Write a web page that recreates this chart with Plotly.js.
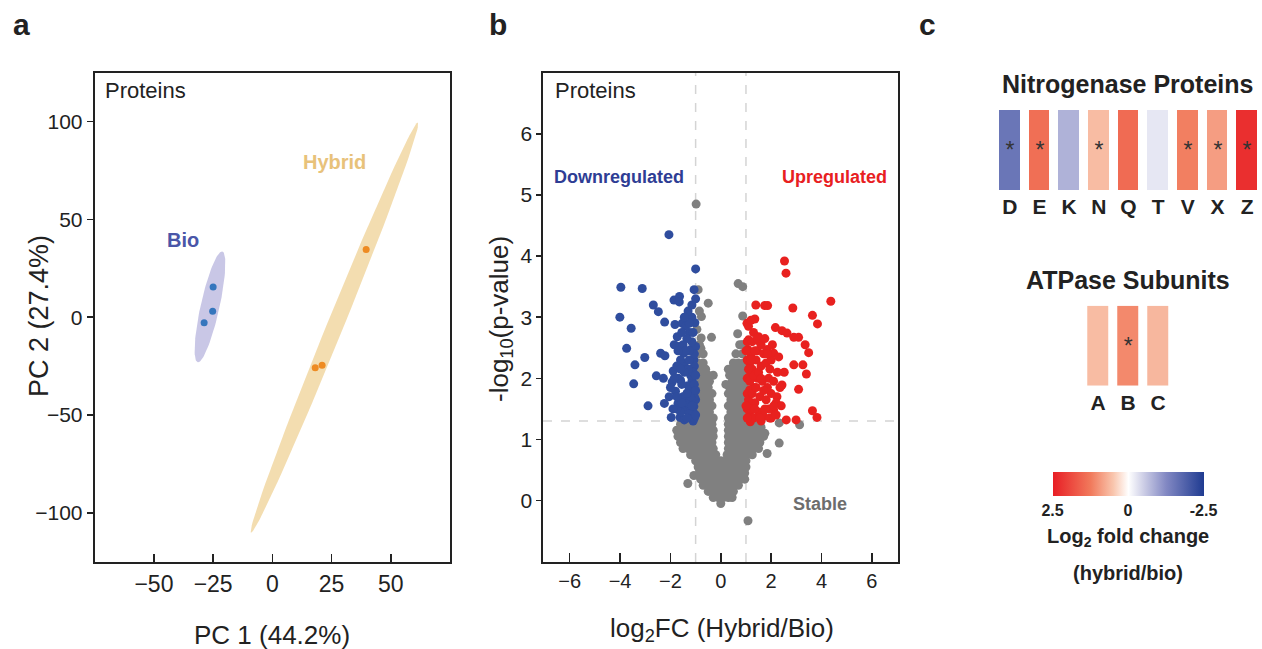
<!DOCTYPE html>
<html>
<head>
<meta charset="utf-8">
<script src="https://cdn.plot.ly/plotly-3.0.1.min.js"></script>
<style>html,body{margin:0;padding:0;background:#fff}#chart{width:1262px;height:649px}</style>
</head>
<body>
<div id="chart"></div>
<script>
// ---------- Panel a: PCA ----------
const bioPC1 = [-25.0, -25.2, -28.8];
const bioPC2 = [15.5, 3.1, -2.8];
const hybPC1 = [39.6, 18.1, 21.0];
const hybPC2 = [34.6, -25.9, -24.6];
const pcaXTicks = [-50, -25, 0, 25, 50];
const pcaYTicks = [-100, -50, 0, 50, 100];

// ---------- Panel b: volcano ----------
const downX = [-2.06,-3.97,-3.12,-4.01,-3.56,-3.74,-3.41,-3.46,-3.02,-2.89,-2.68,-2.48,-2.23,-2.39,-2.22,-2.56,-2.28,-2.24,-1.86,-1.64,-1.65,-1.82,-1.53,-1.0,-1.06,-1.03,-1.24,-1.73,-1.66,-1.89,-1.93,-1.8,-1.7,-1.97,-1.62,-1.2,-1.07,-1.33,-1.14,-1.4,-1.07,-1.2,-1.47,-1.0,-1.6,-1.0,-1.33,-1.07,-1.53,
  -1.1,-1.25,-1.45,-1.6,-1.75,-1.15,-1.3,-1.5,-1.7,-1.2,-1.45,-1.6,-1.15,-1.35,-1.5,-1.05,-1.25,-1.05,-1.3,-1.55,-1.75,-1.85,-1.4,-1.15,-1.65,-1.9,-2.05,-2.0,
  -1.05,-1.15,-1.05,-1.2,-1.35,-1.1,-1.3,-1.45,-1.05,-1.25,-1.4,-1.1,-1.55,-1.25,-1.7,-1.35,-1.55,-1.75,-1.85,-1.6,-1.15,-1.3,-1.0,-1.0,-1.0,-1.0,-1.45];
const downY = [4.35,3.49,3.47,3.0,2.82,2.49,2.22,1.91,2.34,1.55,3.2,3.09,2.92,2.41,2.37,2.04,2.0,1.59,3.28,3.34,3.25,2.88,2.9,3.79,3.45,2.91,2.75,2.68,2.52,2.12,1.94,1.79,1.59,1.36,1.36,1.35,1.43,1.76,1.97,2.14,2.3,2.47,2.41,2.52,1.97,1.65,1.51,1.54,1.48,
  1.3,1.42,1.32,1.45,1.5,1.8,1.88,1.7,2.0,2.05,2.25,2.3,2.6,2.65,2.55,2.2,2.3,1.9,1.6,1.9,2.2,2.55,2.85,3.0,1.6,1.5,1.7,1.85,
  1.35,1.55,1.7,1.7,1.75,2.1,2.15,2.1,2.4,2.45,2.45,2.75,2.75,2.9,2.45,1.35,1.6,1.7,2.0,2.15,3.2,3.1,3.3,2.05,1.8,1.4,3.0];
const upX = [2.53,2.59,4.37,1.39,1.74,1.86,2.86,3.64,3.84,1.35,1.04,2.17,2.43,2.63,2.9,3.09,3.35,3.49,2.9,3.26,3.4,3.09,2.52,3.64,3.82,2.6,2.99,2.1,2.23,2.43,2.1,1.84,1.57,1.5,1.1,1.08,1.15,1.15,1.15,1.15,1.15,1.17,
  1.3,1.5,1.7,1.9,2.0,1.35,1.55,1.8,2.0,1.3,1.45,1.65,1.9,2.1,1.25,1.4,1.6,1.8,2.0,2.25,1.2,1.45,1.7,1.95,2.3,1.6,1.3,2.2,2.4,2.35,1.05,1.05,1.05,1.05,1.1,1.6,1.85,2.1,
  1.05,1.2,1.35,1.1,1.25,1.4,1.15,1.3,1.5,1.1,1.2,1.35,1.05,1.25,1.45,1.2,1.6,1.75,1.7,1.55,1.85,2.05,1.75,1.95,2.2,1.0,1.0];
const upY = [3.92,3.72,3.26,3.2,3.19,3.19,3.15,3.03,2.89,2.97,2.9,2.83,2.78,2.74,2.67,2.67,2.55,2.42,2.22,2.22,2.07,1.82,2.1,1.47,1.36,1.32,1.32,1.48,1.70,1.89,2.41,2.47,2.58,2.68,2.63,2.47,2.25,2.03,1.81,1.59,1.4,1.29,
  1.35,1.45,1.38,1.5,1.35,1.6,1.7,1.65,1.75,1.85,2.0,1.95,2.0,1.95,2.15,2.3,2.2,2.25,2.3,2.1,2.4,2.45,2.4,2.15,2.35,2.55,2.75,1.6,1.55,1.85,2.0,1.5,1.75,2.3,2.85,1.3,1.85,1.55,
  1.35,1.5,1.5,1.65,1.75,1.85,1.95,2.05,2.1,2.15,2.3,2.45,2.6,2.6,2.65,2.95,2.0,1.5,1.8,1.35,2.4,2.55,2.65,1.35,1.4,1.55,2.45];
// stable proteins, read row by row (y level, x positions)
const stableRowY = [-0.05,0.05,0.15,0.25,0.35,0.45,0.55,0.65,0.75,0.85,0.95,1.05,1.15,1.25,1.35,1.45,1.55,1.65,1.75,1.85,1.95,2.05,2.15,2.25,2.4,2.55];
const stableRowX = [
  [0],
  [-0.3,-0.1,0.1,0.3,0.45],
  [-0.5,-0.3,-0.1,0.1,0.3,0.5],
  [-0.7,-0.5,-0.3,-0.1,0.1,0.3,0.5,0.7],
  [-0.8,-0.6,-0.4,-0.2,0,0.2,0.4,0.6,0.8],
  [-0.85,-0.65,-0.45,-0.25,-0.05,0.15,0.35,0.55,0.75,0.95],
  [-0.9,-0.7,-0.5,-0.3,-0.1,0.1,0.3,0.5,0.7,0.9,1.0],
  [-1.0,-0.8,-0.6,-0.4,-0.2,0.0,0.2,0.4,0.6,0.8,1.0],
  [-1.2,-1.0,-0.8,-0.6,-0.4,-0.2,0.25,0.45,0.65,0.85,1.05,1.25],
  [-1.5,-1.3,-1.1,-0.9,-0.7,-0.5,-0.3,0.3,0.5,0.7,0.9,1.1,1.3,1.5],
  [-1.6,-1.4,-1.2,-1.0,-0.8,-0.6,-0.35,0.3,0.5,0.7,0.9,1.1,1.3,1.55],
  [-1.7,-1.5,-1.3,-1.1,-0.9,-0.7,-0.5,-0.3,0.3,0.5,0.7,0.9,1.1,1.3,1.5,1.7],
  [-1.75,-1.55,-1.35,-1.15,-0.95,-0.75,-0.55,-0.3,0.3,0.5,0.7,0.9,1.1,1.3,1.5],
  [-1.6,-1.4,-1.2,-1.0,-0.8,-0.6,-0.35,0.3,0.5,0.7,0.9,1.1,1.3],
  [-0.95,-0.75,-0.55,-0.3,0.3,0.5,0.7,0.9],
  [-0.85,-0.65,-0.45,0.4,0.6,0.8,0.95],
  [-0.95,-0.75,-0.55,-0.35,0.3,0.5,0.7,0.9],
  [-0.85,-0.65,-0.45,0.4,0.6,0.8,0.95],
  [-0.95,-0.75,-0.55,-0.35,0.3,0.5,0.7,0.9],
  [-0.9,-0.7,-0.5,0.35,0.55,0.75,0.95],
  [-0.8,-0.6,-0.45,0.45,0.65,0.85],
  [-0.9,-0.7,-0.5,0.35,0.55,0.75,0.95],
  [-0.8,-0.6,0.45,0.65,0.85],
  [-0.9,-0.7,0.5,0.7,0.9],
  [-0.9,-0.7,0.6,0.85],
  [-0.85,0.75,0.9]
];
const stableOutX = [-0.98,-0.9,-0.5,-0.77,-0.78,-0.37,-0.79,0.69,0.87,0.87,0.67,0.84,0.3,2.32,1.84,3.13,2.32,-1.31,-1.07,1.08,0.95,-0.3,-0.95,-0.85,0.2,1.2,1.6,1.75];
const stableOutY = [4.85,3.45,3.23,3.01,2.66,2.67,2.49,3.55,3.5,3.02,2.73,2.55,2.15,0.94,0.77,1.24,1.27,0.28,0.41,-0.33,0.35,2.05,2.8,3.1,1.9,1.15,1.2,1.1];
const fcCut = 1;
const pCut = 0.05;
const volXTicks = [-6,-4,-2,0,2,4,6];
const volYTicks = [0,1,2,3,4,5,6];

// ---------- Panel c: heatmaps ----------
const nitroGenes = ['D','E','K','N','Q','T','V','X','Z'];
const nitroFC = [-1.55, 1.4, -0.8, 0.6, 1.45, -0.25, 1.2, 0.9, 2.27];
const nitroSig = ['*','*','','*','','','*','*','*'];
const atpGenes = ['A','B','C'];
const atpFC = [0.6, 1.1, 0.65];
const atpSig = ['','*',''];
const fcTickVals = [2.5, 0, -2.5];

// ---------- helpers ----------
const W = 1262, H = 649;
const px = x => x / W;
const py = y => 1 - y / H;
const FONT = 'Arial, "Liberation Sans", Helvetica, sans-serif';

function ellipse(xs, ys, r) {
  const n = xs.length;
  const mx = xs.reduce((a,b)=>a+b,0)/n, my = ys.reduce((a,b)=>a+b,0)/n;
  let sxx=0, syy=0, sxy=0;
  for (let i=0;i<n;i++){ const dx=xs[i]-mx, dy=ys[i]-my; sxx+=dx*dx; syy+=dy*dy; sxy+=dx*dy; }
  sxx/=(n-1); syy/=(n-1); sxy/=(n-1);
  const tr = sxx+syy, det = sxx*syy - sxy*sxy;
  const disc = Math.sqrt(Math.max(tr*tr/4 - det, 0));
  const l1 = tr/2 + disc, l2 = Math.max(tr/2 - disc, 0);
  let vx = sxy, vy = l1 - sxx;
  const nv = Math.hypot(vx, vy) || 1; vx/=nv; vy/=nv;
  const a = Math.sqrt(l1)*r, b = Math.sqrt(l2)*r;
  const ex=[], ey=[];
  for (let k=0;k<=120;k++){
    const t = 2*Math.PI*k/120;
    const u = a*Math.cos(t), v = b*Math.sin(t);
    ex.push(mx + u*vx - v*vy);
    ey.push(my + u*vy + v*vx);
  }
  return {x:ex, y:ey};
}
const R99 = Math.sqrt(-2*Math.log(0.01));
const bioEll = ellipse(bioPC1, bioPC2, R99);
const hybEll = ellipse(hybPC1, hybPC2, R99);

const stableX = [], stableY = [];
stableRowY.forEach((y,i)=>stableRowX[i].forEach(x=>{stableX.push(x); stableY.push(y);}));
stableOutX.forEach((x,i)=>{stableX.push(x); stableY.push(stableOutY[i]);});

// z is plotted as -log2FC so that +2.5 sits on the left of the colour bar
const colorscale = [
  [0,'#e81e25'],[0.25,'#f17a5c'],[0.4,'#f9c6ae'],[0.5,'#ffffff'],
  [0.6,'#cdcee6'],[0.75,'#8288c3'],[1,'#1f3b91']
];

const traces = [
  {type:'scatter', mode:'lines', x:bioEll.x, y:bioEll.y, fill:'toself', fillcolor:'#c9c7e6', line:{width:0}, xaxis:'x', yaxis:'y', hoverinfo:'skip'},
  {type:'scatter', mode:'lines', x:hybEll.x, y:hybEll.y, fill:'toself', fillcolor:'#f3ddb0', line:{width:0}, xaxis:'x', yaxis:'y', hoverinfo:'skip'},
  {type:'scatter', mode:'markers', x:bioPC1, y:bioPC2, marker:{size:7, color:'#3576bd'}, xaxis:'x', yaxis:'y'},
  {type:'scatter', mode:'markers', x:hybPC1, y:hybPC2, marker:{size:7, color:'#ee8b22'}, xaxis:'x', yaxis:'y'},

  {type:'scatter', mode:'markers', x:stableX, y:stableY, marker:{size:9, color:'#808080'}, xaxis:'x2', yaxis:'y2'},
  {type:'scatter', mode:'markers', x:downX, y:downY, marker:{size:9, color:'#2f4d9e'}, xaxis:'x2', yaxis:'y2'},
  {type:'scatter', mode:'markers', x:upX, y:upY, marker:{size:9, color:'#e8211f'}, xaxis:'x2', yaxis:'y2'},

  {type:'heatmap', x:nitroGenes, y:['n'], z:[nitroFC.map(v=>-v)], text:[nitroSig], texttemplate:'%{text}',
   textfont:{size:23, color:'#333', family:FONT}, colorscale:colorscale, zmin:-2.5, zmax:2.5, xgap:9,
   xaxis:'x3', yaxis:'y3', showscale:true,
   colorbar:{orientation:'h', x:px(1128), xanchor:'center', y:py(472), yanchor:'top', len:151, lenmode:'pixels',
     thickness:24, thicknessmode:'pixels', outlinewidth:0, ticks:'', xpad:0, ypad:0,
     tickvals:fcTickVals.map(v=>-v), ticktext:fcTickVals.map(v=>'<b>'+String(v)+'</b>'),
     tickfont:{size:16, color:'#222', family:FONT}}},
  {type:'heatmap', x:atpGenes, y:['a'], z:[atpFC.map(v=>-v)], text:[atpSig], texttemplate:'%{text}',
   textfont:{size:23, color:'#333', family:FONT}, colorscale:colorscale, zmin:-2.5, zmax:2.5, xgap:9,
   xaxis:'x4', yaxis:'y4', showscale:false}
];

const frame = {showline:true, mirror:true, linewidth:2, linecolor:'#222', showgrid:false, zeroline:false, tickcolor:'#222', tickwidth:1.5};

const shapes = [
  {type:'line', xref:'x2', yref:'paper', x0:-fcCut, x1:-fcCut, y0:py(562), y1:py(72.7), line:{color:'#d4d4d4', width:1.5, dash:'dash'}, layer:'below'},
  {type:'line', xref:'x2', yref:'paper', x0:fcCut, x1:fcCut, y0:py(562), y1:py(72.7), line:{color:'#d4d4d4', width:1.5, dash:'dash'}, layer:'below'},
  {type:'line', xref:'paper', yref:'y2', x0:px(543), x1:px(898), y0:-Math.log10(pCut), y1:-Math.log10(pCut), line:{color:'#d4d4d4', width:1.5, dash:'dash'}, layer:'below'}
];

function ann(text, x, y, size, opts) {
  return Object.assign({text:text, xref:'paper', yref:'paper', x:px(x), y:py(y), xanchor:'center', yanchor:'middle',
    showarrow:false, font:{size:size, color:'#222', family:FONT}}, opts||{});
}

const annotations = [
  ann('<b>a</b>', 21, 24.5, 30),
  ann('<b>b</b>', 498, 24.5, 30),
  ann('<b>c</b>', 927, 24.5, 30),
  ann('Proteins', 102.7, 91, 22, {xanchor:'left'}),
  ann('Proteins', 552.7, 91, 22, {xanchor:'left'}),
  ann('<b>Bio</b>', 183, 240, 20, {font:{size:20, color:'#4a56a8', family:FONT}}),
  ann('<b>Hybrid</b>', 334.5, 162, 20, {font:{size:20, color:'#e8c27a', family:FONT}}),
  ann('<b>Downregulated</b>', 618.7, 177, 18, {font:{size:18, color:'#2e3d94', family:FONT}}),
  ann('<b>Upregulated</b>', 834.3, 177, 18, {font:{size:18, color:'#e8201f', family:FONT}}),
  ann('<b>Stable</b>', 820, 504, 18, {font:{size:18, color:'#6d6d6d', family:FONT}}),
  ann('PC 1 (44.2%)', 272, 635, 26),
  ann('PC 2 (27.4%)', 39, 316, 27, {textangle:-90}),
  ann('-log<sub>10</sub>(p-value)', 500, 319, 26, {textangle:-90}),
  ann('log<sub>2</sub>FC (Hybrid/Bio)', 722, 629, 26),
  ann('<b>Nitrogenase Proteins</b>', 1127.5, 84, 25),
  ann('<b>ATPase Subunits</b>', 1127.7, 280, 25),
  ann('<b>Log<sub>2</sub> fold change</b>', 1128, 537, 20),
  ann('<b>(hybrid/bio)</b>', 1128, 573, 20)
];

const layout = {
  width:W, height:H, margin:{l:0,r:0,t:0,b:0}, paper_bgcolor:'#fff', plot_bgcolor:'#fff',
  showlegend:false, font:{family:FONT, color:'#222'},
  xaxis: Object.assign({}, frame, {domain:[px(94.7), px(450)], range:[-75,75], tickvals:pcaXTicks, ticks:'inside', ticklen:8,
    tickfont:{size:23, color:'#222'}, ticklabelstandoff:1, anchor:'y'}),
  yaxis: Object.assign({}, frame, {domain:[py(561.7), py(72.7)], range:[-125,125], tickvals:pcaYTicks, ticks:'outside', ticklen:6,
    tickfont:{size:21, color:'#222'}, anchor:'x'}),
  xaxis2: Object.assign({}, frame, {domain:[px(543.3), px(898.3)], range:[-7.05,7.05], tickvals:volXTicks, ticks:'inside', ticklen:9,
    tickfont:{size:20, color:'#222'}, ticklabelstandoff:0, anchor:'y2'}),
  yaxis2: Object.assign({}, frame, {domain:[py(562.3), py(72.7)], range:[-1.01,7.0], tickvals:volYTicks, ticks:'outside', ticklen:5,
    tickfont:{size:21, color:'#222'}, anchor:'x2'}),
  xaxis3: {domain:[px(995), px(1262)], type:'category', showgrid:false, zeroline:false, showline:false, ticks:'', anchor:'y3',
    tickfont:{size:21, color:'#222', family:FONT, weight:'bold'}, ticklabelstandoff:2},
  yaxis3: {domain:[py(190), py(110)], visible:false, anchor:'x3'},
  xaxis4: {domain:[px(1083.2), px(1173.2)], type:'category', showgrid:false, zeroline:false, showline:false, ticks:'', anchor:'y4',
    tickfont:{size:21, color:'#222', family:FONT, weight:'bold'}, ticklabelstandoff:2},
  yaxis4: {domain:[py(385.7), py(305.7)], visible:false, anchor:'x4'},
  shapes: shapes,
  annotations: annotations
};

Plotly.newPlot('chart', traces, layout, {staticPlot:true, displayModeBar:false});
</script>
</body>
</html>
